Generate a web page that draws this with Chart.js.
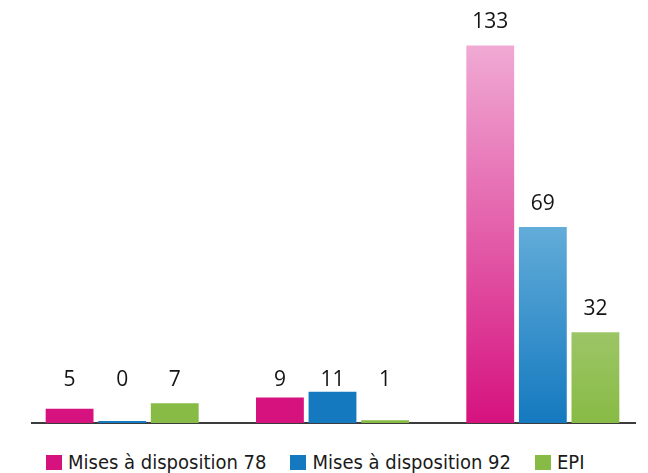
<!DOCTYPE html>
<html lang="fr">
<head>
  <meta charset="UTF-8" />
  <title>Mises à disposition / EPI</title>
  <script src="https://cdn.jsdelivr.net/npm/chart.js"></script>
  <style>
    html, body {
      margin: 0;
      padding: 0;
      background: #fff;
      overflow: hidden;
    }

    .wrap {
      position: relative;
      width: 648px;
      height: 473px;
    }

    .chart-box {
      position: absolute;
      left: 0;
      top: 0;
      width: 648px;
      height: 430px;
    }

    .legend {
      position: absolute;
      left: 46px;
      top: 451px;
      display: flex;
      gap: 24px;
      font-family: 'DejaVu Sans Condensed', sans-serif;
      font-size: 20px;
      color: #1a1a1a;
      line-height: 22px;
    }

    .legend span.item {
      display: flex;
      align-items: center;
      white-space: nowrap;
    }

    .legend i {
      display: inline-block;
      width: 16px;
      height: 15px;
      margin-right: 6px;
    }
  </style>
</head>
<body>

<div class="wrap">
  <div class="chart-box"><canvas id="barChart"></canvas></div>
  <div class="legend" id="legend"></div>
</div>

<script>
  // data
  const groups = ['Groupe 1', 'Groupe 2', 'Groupe 3'];
  const seriesNames = ['Mises à disposition 78', 'Mises à disposition 92', 'EPI'];
  const mad78 = [5, 9, 133];
  const mad92 = [0, 11, 69];
  const epi = [7, 1, 32];

  const solid = ['#d6127f', '#1479bf', '#88bb45'];
  const light = ['#f0aad4', '#62acd9', '#9cc566'];

  // tall bars of the last group fade lighter towards the top
  function barColor(i) {
    return (ctx) => {
      const chart = ctx.chart;
      if (ctx.type !== 'data' || ctx.dataIndex !== 2 || !chart.chartArea) return solid[i];
      const y = chart.scales.y;
      const top = y.getPixelForValue(ctx.raw);
      const base = y.getPixelForValue(0);
      const g = chart.ctx.createLinearGradient(0, top, 0, base);
      g.addColorStop(0, light[i]);
      g.addColorStop(1, solid[i]);
      return g;
    };
  }

  const baseLine = {
    id: 'baseLine',
    beforeDatasetsDraw(chart) {
      const c = chart.ctx;
      const y0 = chart.scales.y.getPixelForValue(0);
      c.save();
      c.strokeStyle = '#3c3c3c';
      c.lineWidth = 2;
      c.beginPath();
      c.moveTo(31, y0);
      c.lineTo(636, y0);
      c.stroke();
      c.restore();
    }
  };

  // small values sit on one common line, big ones just above their bar
  const valueLabels = {
    id: 'valueLabels',
    afterDatasetsDraw(chart) {
      const c = chart.ctx;
      c.save();
      c.font = '21px "Open Sans", sans-serif';
      c.fillStyle = '#141414';
      c.textAlign = 'center';
      c.textBaseline = 'middle';
      chart.data.datasets.forEach((ds, di) => {
        chart.getDatasetMeta(di).data.forEach((bar, i) => {
          const y = bar.y < 360 ? bar.y - 23 : 380;
          c.fillText(String(ds.data[i]), bar.x, y);
        });
      });
      c.restore();
    }
  };

  const datasets = [mad78, mad92, epi].map((vals, i) => ({
    label: seriesNames[i],
    data: vals,
    backgroundColor: barColor(i),
    borderWidth: 0,
    minBarLength: 2,
    categoryPercentage: 0.75,
    barPercentage: 0.91
  }));

  new Chart(document.getElementById('barChart'), {
    type: 'bar',
    data: { labels: groups, datasets },
    options: {
      responsive: true,
      maintainAspectRatio: false,
      animation: false,
      layout: { padding: { left: 17, right: 0, top: 0, bottom: 7 } },
      scales: {
        x: { display: false },
        y: { display: false, min: 0, max: 149 }
      },
      plugins: {
        legend: { display: false },
        tooltip: { enabled: false }
      }
    },
    plugins: [baseLine, valueLabels]
  });

  // html legend
  const legendEl = document.getElementById('legend');
  seriesNames.forEach((name, i) => {
    const item = document.createElement('span');
    item.className = 'item';
    item.innerHTML = '<i style="background:' + solid[i] + '"></i>' + name;
    legendEl.appendChild(item);
  });
</script>

</body>
</html>
